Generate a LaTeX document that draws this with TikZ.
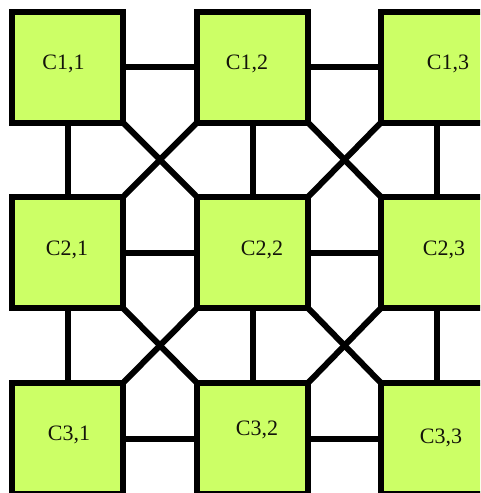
\documentclass[tikz,border=0pt]{standalone}
\usepackage{fontspec}
\setmainfont{Liberation Serif}
\definecolor{cellfill}{RGB}{204,255,102}
\definecolor{ink}{RGB}{20,20,10}
\begin{document}
\begin{tikzpicture}[x=1pt,y=-1pt,
  cell/.style={draw=black,fill=cellfill,line width=6pt,rectangle,
    minimum width=111pt,minimum height=111pt,inner sep=0pt,outer sep=0pt},
  celltext/.style={text=ink,font=\fontsize{22}{26}\selectfont,inner sep=0pt},
  link/.style={draw=black,line width=6pt}]
\useasboundingbox (0,0) rectangle (480,493);
\clip (0,0) rectangle (480,493);
% connectors first (under boxes)
\coordinate (d) at (0,0);
% boxes
\node[cell,label={[celltext,xshift=-4pt,yshift=3pt]center:C1,1}] (b11) at (67.5,67) {};
\node[cell,label={[celltext,xshift=-5.5pt,yshift=3pt]center:C1,2}] (b12) at (252.5,67) {};
\node[cell,label={[celltext,xshift=11.5pt,yshift=3pt]center:C1,3}] (b13) at (436.5,67) {};
\node[cell,label={[celltext,xshift=-0.5pt,yshift=2.5pt]center:C2,1}] (b21) at (67.5,252.5) {};
\node[cell,label={[celltext,xshift=9.5pt,yshift=2.5pt]center:C2,2}] (b22) at (252.5,252.5) {};
\node[cell,label={[celltext,xshift=7.5pt,yshift=2.5pt]center:C2,3}] (b23) at (436.5,252.5) {};
\node[cell,label={[celltext,xshift=1.5pt,yshift=3.5pt]center:C3,1}] (b31) at (67.5,438.5) {};
\node[cell,label={[celltext,xshift=4.5pt,yshift=8.5pt]center:C3,2}] (b32) at (252.5,438.5) {};
\node[cell,label={[celltext,xshift=4.5pt,yshift=0.5pt]center:C3,3}] (b33) at (436.5,438.5) {};
% horizontal links
\draw[link] (b11.east) -- (b12.west);
\draw[link] (b12.east) -- (b13.west);
\draw[link] (b21.east) -- (b22.west);
\draw[link] (b22.east) -- (b23.west);
\draw[link] (b31.east) -- (b32.west);
\draw[link] (b32.east) -- (b33.west);
% vertical links
\draw[link] (b11.south) -- (b21.north);
\draw[link] (b12.south) -- (b22.north);
\draw[link] (b13.south) -- (b23.north);
\draw[link] (b21.south) -- (b31.north);
\draw[link] (b22.south) -- (b32.north);
\draw[link] (b23.south) -- (b33.north);
% diagonal links
\draw[link] (b11.south east) -- (b22.north west);
\draw[link] (b12.south west) -- (b21.north east);
\draw[link] (b12.south east) -- (b23.north west);
\draw[link] (b13.south west) -- (b22.north east);
\draw[link] (b21.south east) -- (b32.north west);
\draw[link] (b22.south west) -- (b31.north east);
\draw[link] (b22.south east) -- (b33.north west);
\draw[link] (b23.south west) -- (b32.north east);
\end{tikzpicture}
\end{document}
